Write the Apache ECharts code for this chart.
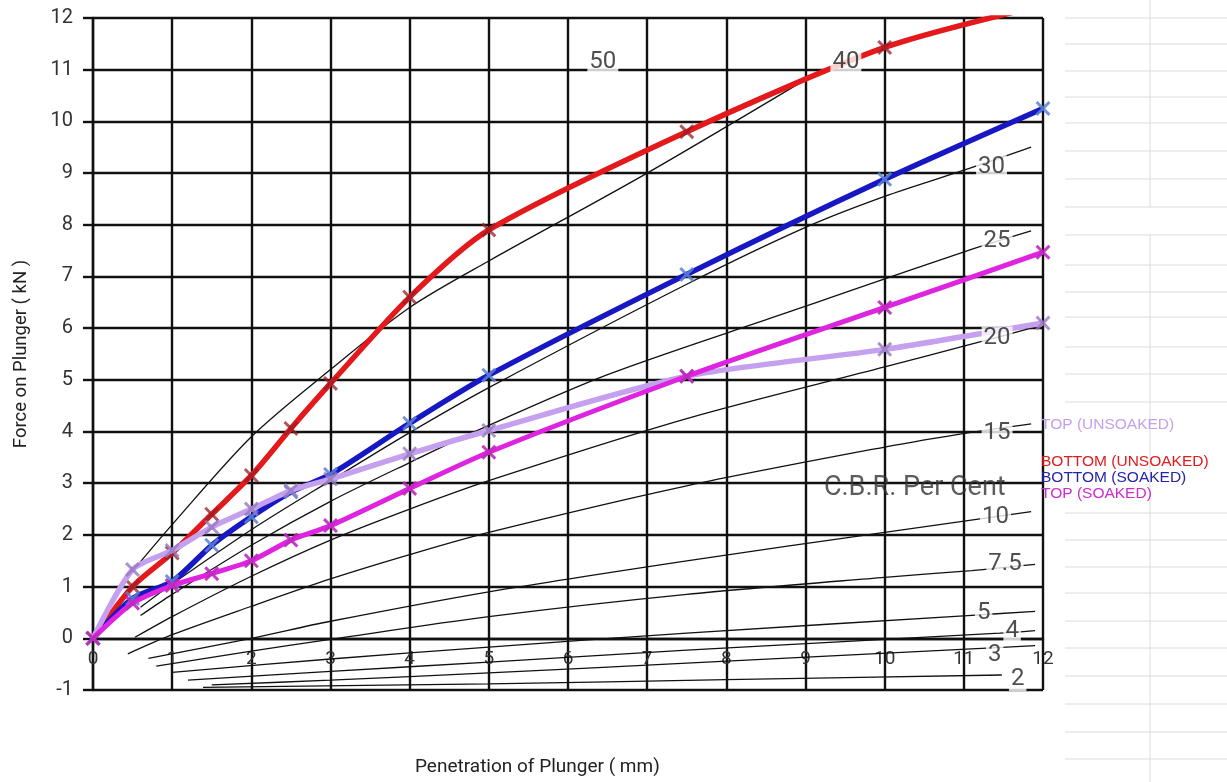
<!DOCTYPE html>
<html><head><meta charset="utf-8">
<script src="https://cdn.jsdelivr.net/npm/echarts@6/dist/echarts.min.js"></script>
<style>html,body{margin:0;padding:0;background:#fff}#c{width:1227px;height:782px}</style>
</head><body><div id="c"></div>
<script>
// ---- data ----
const penetration = [0, 0.5, 1, 1.5, 2, 2.5, 3, 4, 5, 7.5, 10, 12];
const bottomUnsoaked = [0, 1.0, 1.65, 2.4, 3.15, 4.06, 4.93, 6.6, 7.9, 9.8, 11.43, 12.25];
const bottomSoaked   = [0, 0.77, 1.1, 1.8, 2.35, 2.83, 3.17, 4.16, 5.09, 7.04, 8.88, 10.25];
const topUnsoaked    = [0, 1.33, 1.7, 2.15, 2.5, 2.86, 3.08, 3.57, 4.02, 5.07, 5.59, 6.1];
const topSoaked      = [0, 0.68, 1.02, 1.25, 1.5, 1.9, 2.18, 2.9, 3.6, 5.07, 6.4, 7.47];

// C.B.R. reference lines ([penetration, force])
const cbr40  = [[0.5,1.3],[1,2.2],[2,3.9],[3,5.2],[4,6.4],[5,7.3],[7,9.0],[9.1,10.9]];
const cbr30  = [[0.6,0.6],[1,1.05],[2,2.1],[3,3.05],[4,3.98],[5,4.85],[7.5,6.85],[9,7.95],[10,8.55],[11.05,9.08],[11.85,9.5]];
const cbr25  = [[0.6,0.44],[1,0.85],[2,1.8],[3,2.65],[4,3.4],[4.9,4.05],[6.5,5.1],[8.67,6.25],[9.56,6.72],[11.05,7.5],[11.85,7.88]];
const cbr20  = [[0.53,0.02],[1,0.42],[2,1.2],[3,1.9],[4,2.5],[5,3.05],[7.5,4.25],[10,5.25],[11.07,5.68],[11.85,6.0]];
const cbr15  = [[0.44,-0.3],[1,0.07],[2,0.62],[3,1.15],[4,1.62],[5,2.05],[7.5,2.95],[10,3.7],[11.07,3.98],[11.85,4.15]];
const cbr10  = [[0.7,-0.39],[2,0.0],[3,0.33],[5,0.9],[7.5,1.5],[10,2.05],[11.07,2.28],[11.85,2.45]];
const cbr7_5 = [[0.8,-0.54],[2,-0.25],[3,-0.02],[5,0.42],[7.5,0.85],[10,1.18],[11.1,1.31],[11.9,1.43]];
const cbr5   = [[1.0,-0.66],[3,-0.4],[5,-0.17],[7.5,0.1],[11.05,0.44],[11.9,0.52]];
const cbr4   = [[1.2,-0.81],[3,-0.64],[5,-0.46],[7.5,-0.23],[11.45,0.1],[11.9,0.15]];
const cbr3   = [[1.5,-0.9],[3,-0.81],[5,-0.67],[7.5,-0.48],[11.16,-0.2],[11.9,-0.14]];
const cbr2   = [[1.39,-0.95],[5,-0.88],[8,-0.8],[11.48,-0.71]];
const cbrLines = [cbr40, cbr30, cbr25, cbr20, cbr15, cbr10, cbr7_5, cbr5, cbr4, cbr3, cbr2];

// C.B.R. labels and their anchor points
const cbrLabelText = ['50','40','30','25','20','15','10','7.5','5','4','3','2'];
const cbrLabelPos  = [[6.44,11.14],[9.51,11.14],[11.35,9.11],[11.42,7.68],[11.42,5.8],[11.42,3.97],[11.4,2.34],[11.52,1.43],[11.25,0.48],[11.61,0.15],[11.39,-0.33],[11.68,-0.79]];
const cbrCaption = 'C.B.R. Per Cent';
const cbrCaptionPos = [10.38, 2.9];

// axes
const xMin = 0, xMax = 12, yMin = -1, yMax = 12;

// ---- chart ----
const FONT = 'Roboto, "Liberation Sans", Arial, sans-serif';
const X_PATH = 'path://M1.4,0 L5,3.6 L8.6,0 L10,1.4 L6.4,5 L10,8.6 L8.6,10 L5,6.4 L1.4,10 L0,8.6 L3.6,5 L0,1.4 Z';

function dataSeries(name, ys, color, markColor, width, z) {
  return {
    name, type: 'line', z,
    data: penetration.map((x, i) => [x, ys[i]]),
    smooth: 0.25,
    symbol: X_PATH, symbolSize: 15, showAllSymbol: true,
    lineStyle: { color, width },
    itemStyle: { color: markColor },
    emphasis: { disabled: true }
  };
}

const series = [];
cbrLines.forEach((pts, i) => {
  series.push({
    name: 'cbr' + i, type: 'line', data: pts, smooth: 0.3,
    symbol: 'none', lineStyle: { color: '#111', width: 1.3 }, z: 3, silent: true
  });
});
series.push({
  name: 'caption', type: 'scatter', z: 4, silent: true, symbolSize: 0,
  data: [{ value: cbrCaptionPos, label: { formatter: cbrCaption } }],
  label: { show: true, position: 'inside', color: '#333', fontSize: 27, fontFamily: FONT }
});
series.push(dataSeries('BOTTOM (UNSOAKED)', bottomUnsoaked, '#e3191b', 'rgba(150,30,40,0.75)', 5.5, 6));
series.push(dataSeries('BOTTOM (SOAKED)', bottomSoaked, '#1717c4', 'rgba(90,130,210,0.85)', 5.5, 6));
series.push(dataSeries('TOP (UNSOAKED)', topUnsoaked, '#c5a0ef', 'rgba(150,120,190,0.8)', 5.5, 7));
series.push(dataSeries('TOP (SOAKED)', topSoaked, '#de24de', 'rgba(190,40,190,0.9)', 5, 8));
series.push({
  name: 'labels', type: 'scatter', z: 20, silent: true, symbolSize: 0,
  data: cbrLabelPos.map((p, i) => ({ value: p, label: { formatter: cbrLabelText[i] } })),
  label: { show: true, position: 'inside', color: '#222', fontSize: 24, fontFamily: FONT,
           backgroundColor: '#fff', padding: [0, 2] }
});

// spreadsheet-style background lines on the right
const sheetRows = [18,44,71,97,123,151,179,207,235,265,292,317,347,374,402,513,540,567,593,621,648,676,704,732,759];
const graphic = sheetRows.map(y => ({
  type: 'line', silent: true, z: -10,
  shape: { x1: 1065, y1: y, x2: 1227, y2: y },
  style: { stroke: '#dcdcdc', lineWidth: 1 }
}));
graphic.push({ type: 'line', silent: true, z: -10, shape: { x1: 1150, y1: 0, x2: 1150, y2: 207 }, style: { stroke: '#dcdcdc', lineWidth: 1 } });
graphic.push({ type: 'line', silent: true, z: -10, shape: { x1: 1150, y1: 235, x2: 1150, y2: 782 }, style: { stroke: '#dcdcdc', lineWidth: 1 } });

const gridStyle = { color: '#111', width: 2.4 };
const legendFont = '"Liberation Sans", Arial, sans-serif';
const option = {
  animation: false,
  backgroundColor: '#fff',
  textStyle: { fontFamily: FONT },
  title: {
    text: 'Penetration of Plunger ( mm)', left: 415, top: 758, padding: 0,
    textStyle: { color: '#222', fontSize: 19, fontWeight: 'normal', fontFamily: FONT }
  },
  grid: { left: 93, right: 184, top: 18, bottom: 92, containLabel: false, outerBoundsMode: 'none' },
  graphic,
  legend: [
    { data: [{ name: 'TOP (UNSOAKED)', textStyle: { color: '#c5a0ef' } }],
      left: 1041, top: 417, orient: 'vertical', itemWidth: 0, itemHeight: 0, itemGap: 0,
      icon: 'rect', padding: 0, selectedMode: false,
      textStyle: { fontSize: 15.5, lineHeight: 16, fontFamily: legendFont, padding: [0, 0, 0, -5] } },
    { data: [
        { name: 'BOTTOM (UNSOAKED)', textStyle: { color: '#e3191b' } },
        { name: 'BOTTOM (SOAKED)', textStyle: { color: '#2323b0' } },
        { name: 'TOP (SOAKED)', textStyle: { color: '#d02ad0' } }],
      left: 1041, top: 454, orient: 'vertical', itemWidth: 0, itemHeight: 0, itemGap: 0,
      icon: 'rect', padding: 0, selectedMode: false,
      textStyle: { fontSize: 15.5, lineHeight: 15, fontFamily: legendFont, padding: [0, 0, 0, -5] } }
  ],
  xAxis: {
    type: 'value', min: xMin, max: xMax, interval: 1,
    position: 'bottom', offset: -51.7,
    axisLine: { onZero: false, lineStyle: gridStyle },
    axisTick: { show: false },
    axisLabel: { color: '#333', fontSize: 19, margin: 11, fontFamily: FONT },
    splitLine: { show: true, lineStyle: gridStyle }
  },
  yAxis: {
    type: 'value', min: yMin, max: yMax, interval: 1,
    axisLine: { show: true, lineStyle: gridStyle },
    axisTick: { show: true, length: 10, lineStyle: gridStyle },
    axisLabel: { color: '#333', fontSize: 20, margin: 20, fontFamily: FONT },
    splitLine: { show: true, lineStyle: gridStyle },
    name: 'Force on Plunger ( kN )', nameLocation: 'middle', nameGap: 62, nameRotate: 90,
    nameTextStyle: { color: '#222', fontSize: 18.5, fontFamily: FONT }
  },
  series
};
const chart = echarts.init(document.getElementById('c'), null, { renderer: 'canvas' });
chart.setOption(option);
</script>
</body></html>
